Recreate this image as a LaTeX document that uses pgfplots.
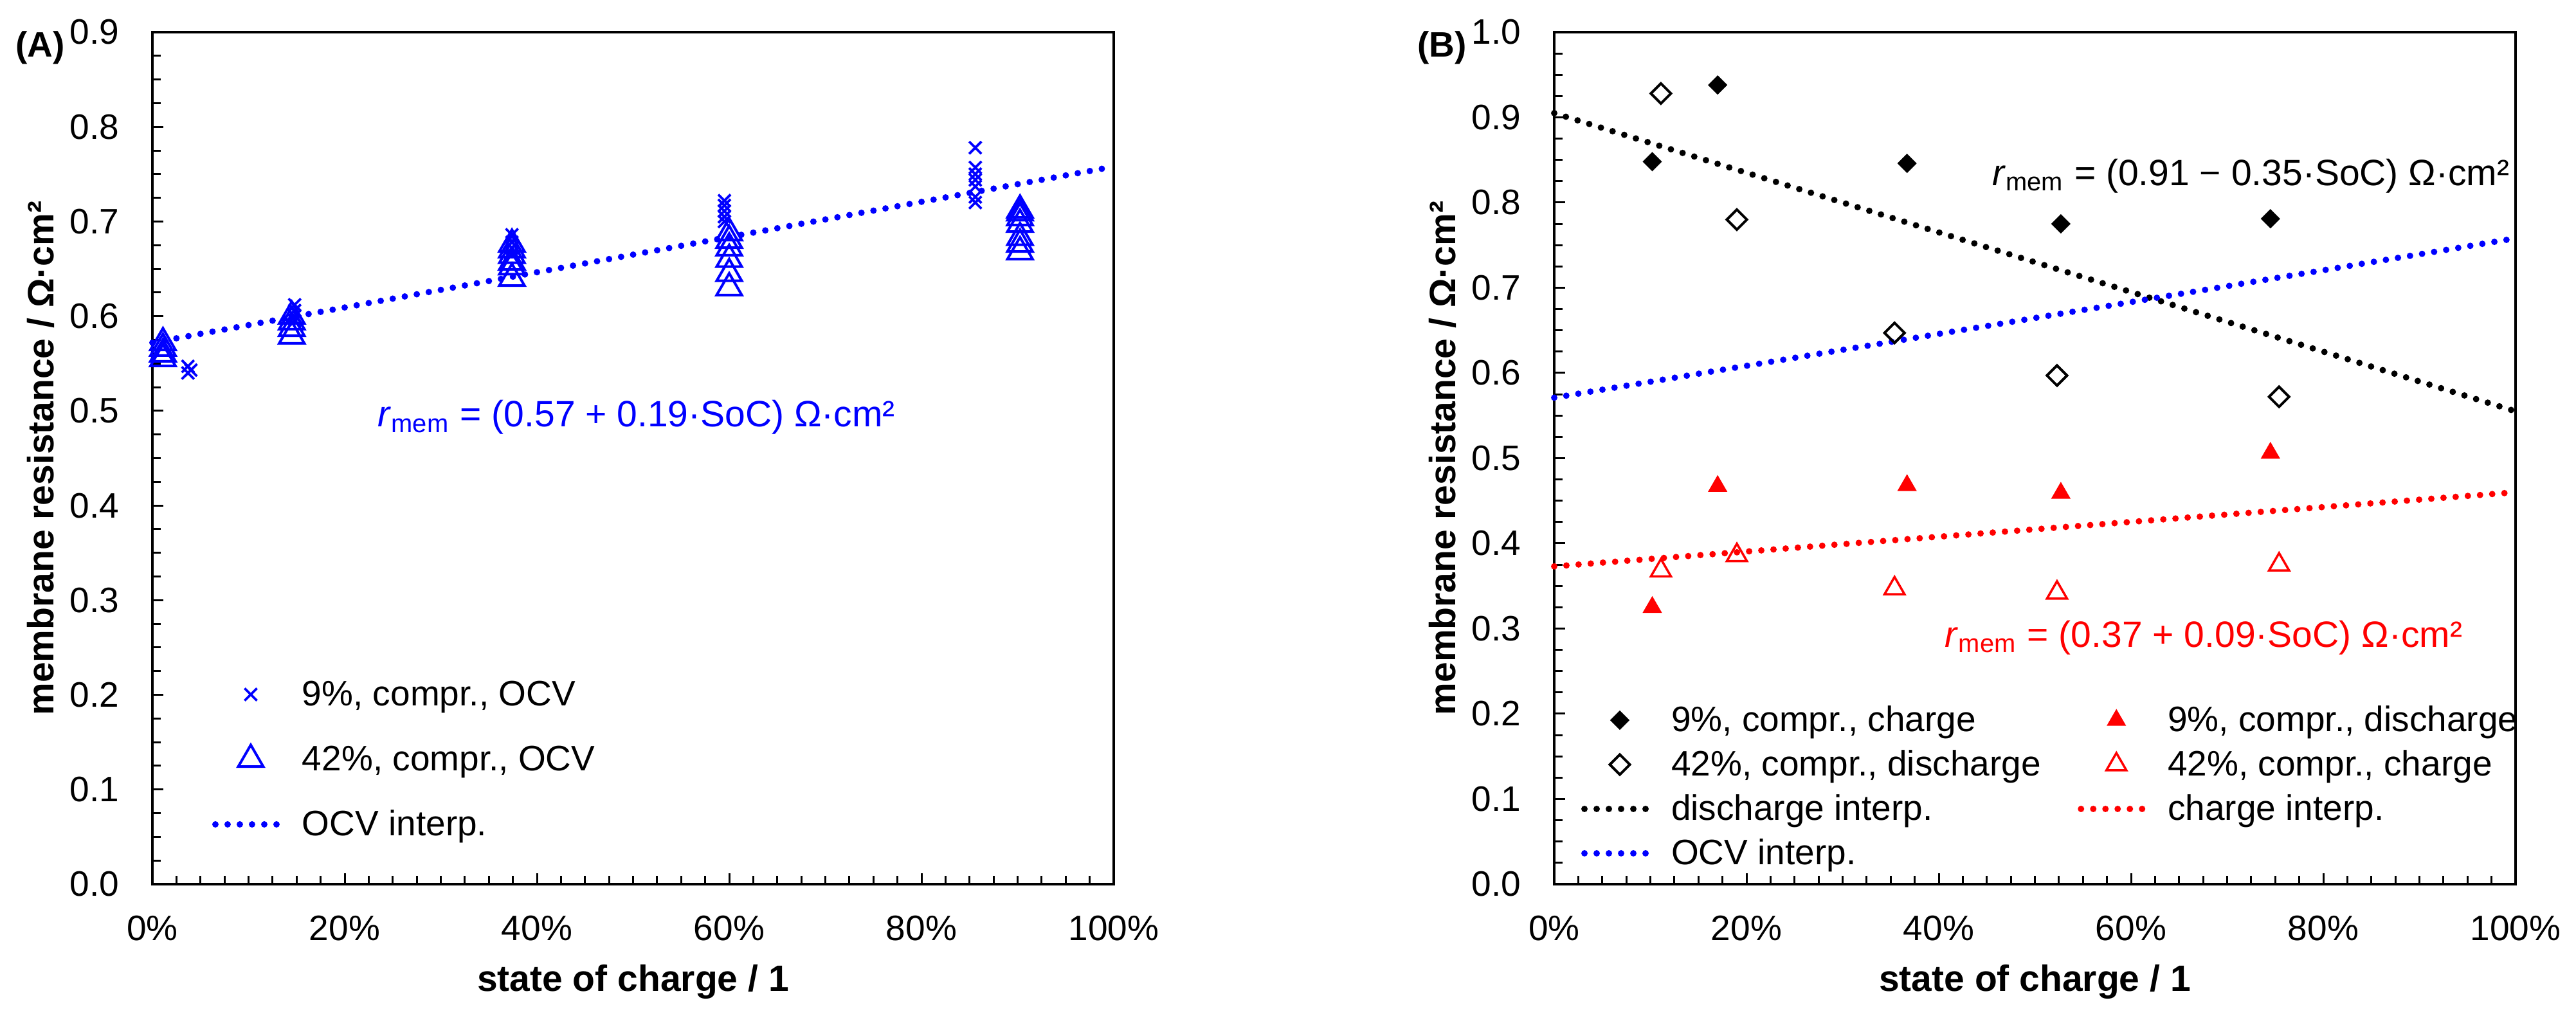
\documentclass[border=0pt]{standalone}
\usepackage{fontspec}
\setmainfont{Liberation Sans}
\usepackage{pgfplots}
\pgfplotsset{compat=1.18}
\begin{document}
\fontsize{11}{13}\selectfont
\begin{tikzpicture}
\path[use as bounding box] (0,0) rectangle (801.2pt,316pt);
\pgfplotsset{
  common/.style={
    scale only axis, width=299pt, height=265pt,
    xmin=0, xmax=1, ymin=0,
    xtick={0,0.2,0.4,0.6,0.8,1},
    xticklabels={0\%,20\%,40\%,60\%,80\%,100\%},
    minor x tick num=7, minor y tick num=3,
    tick align=inside, xtick pos=bottom, ytick pos=left,
    major tick length=3.4pt, minor tick length=2.6pt,
    tick style={black, line width=0.6pt},
    axis line style={line width=0.65pt},
    /pgf/number format/assume math mode=true,
    yticklabel style={/pgf/number format/fixed, /pgf/number format/fixed zerofill,
      /pgf/number format/precision=1, anchor=east, inner sep=0pt, xshift=-10.2pt},
    xticklabel style={anchor=base, inner sep=0pt, yshift=-17.6pt},
    tick label style={font=\fontsize{11}{13}\selectfont},
    label style={font=\bfseries\fontsize{11.4}{13}\selectfont},
    xlabel={state of charge / 1},
    ylabel={membrane resistance / Ω·cm²},
    xlabel style={at={(axis description cs:0.5,-0.126)}, anchor=base},
    ylabel style={at={(axis description cs:-0.103,0.5)}, anchor=base},
    clip=false,
    legend cell align=left,
    legend image code/.code={\draw[mark repeat=2,mark phase=2,##1] plot coordinates {(0pt,0pt) (11pt,0pt) (22pt,0pt)};},
    legend style={draw=none, fill=none, inner sep=0pt, outer sep=0pt, anchor=north west,
      font=\fontsize{11}{13}\selectfont,
      nodes={inner sep=0pt, text height=10pt, text depth=3pt},
      /tikz/every odd column/.append style={column sep=4pt}},
  },
  dotline/.style={line width=2pt, line cap=round, dash pattern=on 0pt off 3.8pt},
}

% ---------------- Panel A ----------------
\begin{axis}[common, at={(47.4pt,41pt)}, anchor=south west, ymax=0.9,
  ytick={0,0.1,0.2,0.3,0.4,0.5,0.6,0.7,0.8,0.9},
  legend style={at={(0.0622,0.2472)}, row sep=7.2pt}]
\addplot[only marks, blue, mark=x, mark size=2.7pt, line width=0.75pt, mark options={solid}] coordinates {
 (0.037,0.547) (0.037,0.540) (0.040,0.543)
 (0.148,0.612) (0.148,0.606) (0.148,0.600) (0.148,0.595)
 (0.374,0.686) (0.374,0.678) (0.374,0.672) (0.374,0.665)
 (0.595,0.722) (0.595,0.717) (0.595,0.711) (0.595,0.705) (0.595,0.700)
 (0.856,0.778) (0.856,0.757) (0.856,0.750) (0.856,0.744) (0.856,0.737) (0.856,0.726) (0.856,0.720)
};
\addlegendentry{9\%, compr., OCV}
\addplot[only marks, blue, mark=triangle, mark size=4.5pt, line width=0.8pt, mark options={solid}] coordinates {
 (0.011,0.555) (0.011,0.560) (0.011,0.566) (0.011,0.572)
 (0.145,0.579) (0.145,0.587) (0.145,0.594) (0.145,0.600)
 (0.374,0.640) (0.374,0.652) (0.374,0.657) (0.374,0.664) (0.374,0.670) (0.374,0.676)
 (0.600,0.630) (0.600,0.645) (0.600,0.660) (0.600,0.672) (0.600,0.680) (0.600,0.688)
 (0.9025,0.668) (0.9025,0.676) (0.9025,0.683) (0.9025,0.697) (0.9025,0.704) (0.9025,0.709) (0.9025,0.712)
};
\addlegendentry{42\%, compr., OCV}
\addplot[blue, dotline] coordinates {(0,0.572) (1,0.758)};
\addlegendentry{OCV interp.}
\node[anchor=base west, inner sep=0pt, text=blue, font=\fontsize{11.4}{13}\selectfont]
  at (axis cs:0.234,0.483) {\textit{r}\textsubscript{mem} = (0.57 + 0.19·SoC) Ω·cm²};
\node[anchor=base west, inner sep=0pt, font=\bfseries\fontsize{11}{13}\selectfont]
  at (axis description cs:-0.143,0.971) {(A)};
\end{axis}

% ---------------- Panel B ----------------
\begin{axis}[common, at={(483.4pt,41pt)}, anchor=south west, ymax=1,
  ytick={0,0.1,0.2,0.3,0.4,0.5,0.6,0.7,0.8,0.9,1},
  legend columns=2,
  legend style={at={(0.0281,0.217)}, row sep=0.8pt,
    /tikz/every even column/.append style={column sep=11.5pt}}]
\addplot[only marks, black, mark=square*, mark size=1.98pt, line width=0.3pt, mark options={rotate=45, solid}] coordinates {
 (0.102,0.848) (0.170,0.938) (0.367,0.846) (0.527,0.775) (0.745,0.781)
};
\addlegendentry{9\%, compr., charge}
\addplot[only marks, red, mark=triangle*, mark size=3.2pt, line width=0.3pt, mark options={solid}] coordinates {
 (0.102,0.325) (0.170,0.467) (0.367,0.468) (0.527,0.459) (0.745,0.506)
};
\addlegendentry{9\%, compr., discharge}
\addplot[only marks, black, mark=square, mark size=2.2pt, line width=0.8pt, mark options={rotate=45, solid, fill=white}] coordinates {
 (0.111,0.928) (0.190,0.780) (0.354,0.647) (0.523,0.597) (0.754,0.572)
};
\addlegendentry{42\%, compr., discharge}
\addplot[only marks, red, mark=triangle, mark size=3.6pt, line width=0.7pt, mark options={solid}] coordinates {
 (0.111,0.368) (0.190,0.386) (0.354,0.347) (0.523,0.342) (0.754,0.375)
};
\addlegendentry{42\%, compr., charge}
\addplot[black, dotline] coordinates {(0,0.905) (1,0.555)};
\addlegendentry{discharge interp.}
\addplot[red, dotline] coordinates {(0,0.373) (1,0.460)};
\addlegendentry{charge interp.}
\addplot[blue, dotline] coordinates {(0,0.571) (1,0.758)};
\addlegendentry{OCV interp.}
\node[anchor=base west, inner sep=0pt, font=\fontsize{11.4}{13}\selectfont]
  at (axis cs:0.455,0.820) {\textit{r}\textsubscript{mem} = (0.91 − 0.35·SoC) Ω·cm²};
\node[anchor=base west, inner sep=0pt, text=red, font=\fontsize{11.4}{13}\selectfont]
  at (axis cs:0.406,0.278) {\textit{r}\textsubscript{mem} = (0.37 + 0.09·SoC) Ω·cm²};
\node[anchor=base west, inner sep=0pt, font=\bfseries\fontsize{11}{13}\selectfont]
  at (axis description cs:-0.143,0.971) {(B)};
\end{axis}
\end{tikzpicture}
\end{document}
